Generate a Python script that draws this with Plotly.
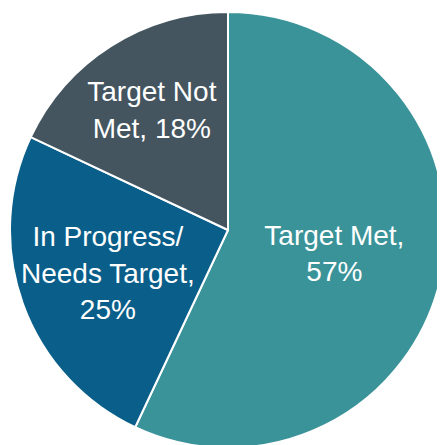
import plotly.graph_objects as go

labels = ["Target Met", "In Progress/<br>Needs Target", "Target Not<br>Met"]
values = [57, 25, 18]
text_labels = ["Target Met,<br>57%", "In Progress/<br>Needs Target,<br>25%", "Target Not<br>Met, 18%"]
colors = ["#3A9399", "#095E8A", "#44555F"]

fig = go.Figure(go.Pie(
    labels=labels,
    values=values,
    text=text_labels,
    texttemplate="%{text}",
    textposition="inside",
    insidetextorientation="horizontal",
    sort=False,
    direction="clockwise",
    rotation=0,
    marker=dict(colors=colors, line=dict(color="white", width=2)),
    textfont=dict(family="Liberation Sans, Arial, sans-serif", size=28, color="white"),
    showlegend=False,
    hoverinfo="skip",
))

fig.update_layout(
    width=445, height=445,
    margin=dict(l=2, r=7, t=4, b=5),
    paper_bgcolor="white",
    plot_bgcolor="white",
    uniformtext=dict(minsize=28, mode="show"),
)

fig.write_html("out.html")
